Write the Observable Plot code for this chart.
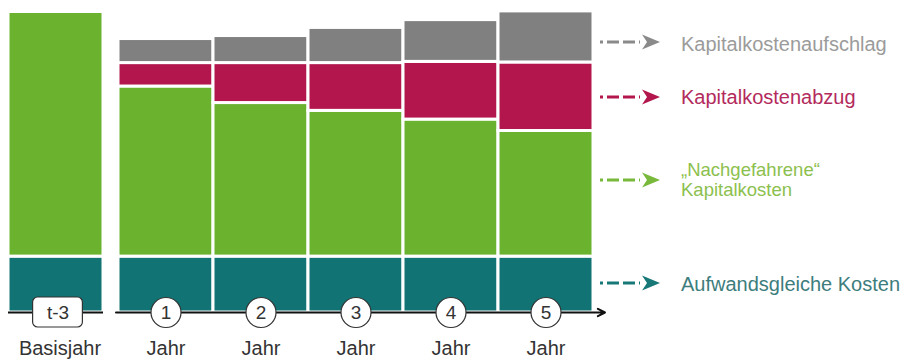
<!DOCTYPE html>
<html><head><meta charset="utf-8">
<script src="https://cdn.jsdelivr.net/npm/d3@7"></script>
<script src="https://cdn.jsdelivr.net/npm/@observablehq/plot@0.6"></script>
<style>
body{margin:0;background:#fff;font-family:"Liberation Sans",Arial,sans-serif;}
#wrap{position:relative;width:907px;height:363px;}
#legend{position:absolute;left:0;top:0;pointer-events:none;}
</style></head><body><div id="wrap"></div>
<script>
// ---- data ----
const categories = ["t-3","1","2","3","4","5"];
const tickLabels = ["t-3","1","2","3","4","5"];
const bottomLabels = ["Basisjahr","Jahr","Jahr","Jahr","Jahr","Jahr"];
const seriesNames = ["Aufwandsgleiche Kosten","Nachgefahrene Kapitalkosten","Kapitalkostenabzug","Kapitalkostenaufschlag"];
const aufwandsgleicheKosten = [18.6,18.6,18.6,18.6,18.6,18.6];
const nachgefahreneKapitalkosten = [81.4,56.6,51.1,48.5,45.6,41.8];
const kapitalkostenabzug = [0,7.8,13.3,15.9,19.2,22.8];
const kapitalkostenaufschlag = [0,8.0,9.0,11.7,13.9,17.0];
const seriesColors = ["#117373","#6bb22e","#b3164c","#808080"];
const legendLines = [["Kapitalkostenaufschlag"],["Kapitalkostenabzug"],["\u201eNachgefahrene\u201c","Kapitalkosten"],["Aufwandsgleiche Kosten"]];
const legendTextColors = ["#9b9b9b","#b32a5c","#8cc04e","#3d7d7d"];
const legendArrowColors = ["#8a8a8a","#b3164c","#78b83a","#187878"];

// ---- table ----
const seriesValues = [aufwandsgleicheKosten, nachgefahreneKapitalkosten, kapitalkostenabzug, kapitalkostenaufschlag];
const rows = [];
categories.forEach((c, i) => seriesValues.forEach((vals, s) => {
  if (vals[i] > 0) rows.push({cat: c, series: seriesNames[s], value: vals[i]});
}));
const ticks = categories.map((c, i) => ({cat: c, tick: tickLabels[i], label: bottomLabels[i]}));
const baseTick = ticks.filter(d => d.cat === "t-3");
const yearTicks = ticks.filter(d => d.cat !== "t-3");
const axisSegment = [{from: categories[1], to: categories[categories.length - 1], y: 0}];
const baseSegment = [{from: categories[0], to: categories[0], y: 0}];

const barOpts = {x: "cat", y: "value", fill: "series", stroke: "white", strokeWidth: 3};
const font = "Liberation Sans, Arial, sans-serif";

const chart = Plot.plot({
  width: 907, height: 363,
  marginTop: 11.5, marginBottom: 51, marginLeft: 0, marginRight: 0,
  style: {fontFamily: font, background: "white"},
  x: {domain: categories, range: [22, 594], padding: 0, axis: null},
  y: {domain: [0, 100], axis: null},
  color: {domain: seriesNames, range: seriesColors},
  marks: [
    Plot.barY(rows.filter(d => d.cat === "t-3"), {...barOpts, dx: -15}),
    Plot.barY(rows.filter(d => d.cat !== "t-3"), barOpts),
    Plot.ruleY(baseSegment, {x1: "from", x2: "to", y: "y", dx: -15, stroke: "#111", strokeWidth: 2}),
    Plot.arrow(axisSegment, {x1: "from", x2: "to", y1: "y", y2: "y", insetStart: -50, insetEnd: -59,
      stroke: "#111", strokeWidth: 2, headLength: 6, headAngle: 55}),
    Plot.barY(baseTick, {x: "cat", y1: 0, y2: 0, insetTop: -15, insetBottom: -15, insetLeft: 22.6, insetRight: 22.6,
      dx: -13, rx: 5, fill: "white", stroke: "#333", strokeWidth: 1.2}),
    Plot.dot(yearTicks, {x: "cat", y: 0, r: 15, fill: "white", stroke: "#333", strokeWidth: 1.2}),
    Plot.text(baseTick, {x: "cat", y: 0, text: "tick", dx: -13, fontSize: 19, fill: "#333"}),
    Plot.text(yearTicks, {x: "cat", y: 0, text: "tick", fontSize: 19, fill: "#333"}),
    Plot.text(baseTick, {x: "cat", y: 0, text: "label", dx: -11, dy: 36, fontSize: 20, fill: "#333"}),
    Plot.text(yearTicks, {x: "cat", y: 0, text: "label", dy: 36, fontSize: 20, fill: "#333"})
  ]
});
const wrap = document.getElementById("wrap");
wrap.appendChild(chart);

// ---- legend (right side) ----
const legendArrowY = [42, 97, 180, 283];
const legendTextY = [[44], [97], [169, 189], [284]];
const legendFont = [20, 20, 18.5, 20];
const ns = "http://www.w3.org/2000/svg";
const lg = document.createElementNS(ns, "svg");
lg.setAttribute("id", "legend");
lg.setAttribute("width", 907); lg.setAttribute("height", 363);
legendLines.forEach((lines, i) => {
  const y = legendArrowY[i], col = legendArrowColors[i];
  const line = document.createElementNS(ns, "path");
  line.setAttribute("d", `M600,${y} H640`);
  line.setAttribute("stroke", col); line.setAttribute("stroke-width", 3);
  line.setAttribute("stroke-dasharray", "3 4 12 4 12 4");
  lg.appendChild(line);
  const head = document.createElementNS(ns, "path");
  head.setAttribute("d", `M642,${y-7.5} L660,${y} L642,${y+7.5} L647,${y} Z`);
  head.setAttribute("fill", col);
  lg.appendChild(head);
  lines.forEach((t, j) => {
    const tx = document.createElementNS(ns, "text");
    tx.setAttribute("x", 681); tx.setAttribute("y", legendTextY[i][j]);
    tx.setAttribute("dominant-baseline", "central");
    tx.setAttribute("font-family", font);
    tx.setAttribute("font-size", legendFont[i]);
    tx.setAttribute("fill", legendTextColors[i]);
    tx.textContent = t;
    lg.appendChild(tx);
  });
});
wrap.appendChild(lg);
</script></body></html>
